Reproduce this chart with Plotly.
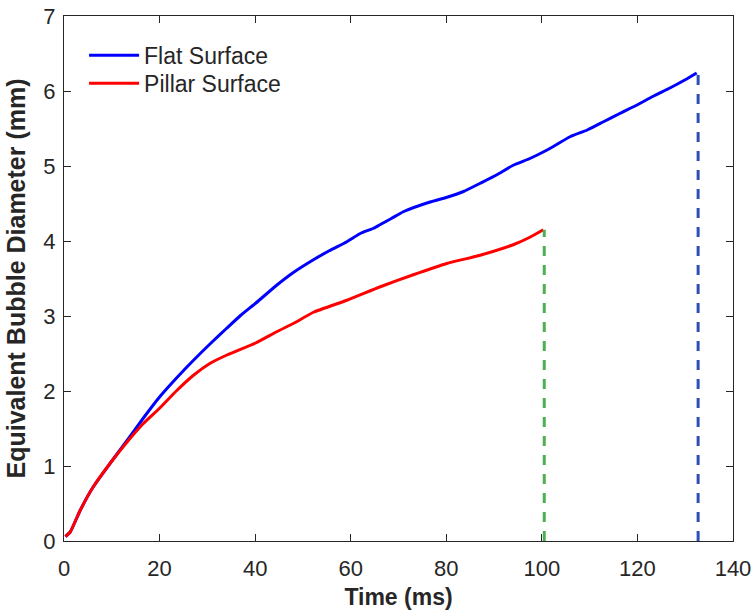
import plotly.graph_objects as go

# Flat surface (blue)
flat_t = [0.3, 1.3, 3.4, 6.1, 9.7, 13.2, 16.5, 20.0, 23.5, 27.1, 30.6, 34.1, 37.0, 40.1, 44.5, 48.0,
          52.2, 55.5, 59.2, 62.0, 64.8, 66.2, 68.5, 71.0, 76.6, 80.0, 83.6, 87.1, 90.5, 94.0,
          97.5, 101.0, 102.4, 105.9, 109.5, 112.9, 116.3, 119.8, 123.3, 126.8, 130.0, 132.4]
flat_d = [0.06, 0.12, 0.41, 0.72, 1.04, 1.34, 1.63, 1.92, 2.17, 2.41, 2.63, 2.84, 3.01, 3.17, 3.41, 3.58,
          3.75, 3.87, 3.99, 4.10, 4.17, 4.22, 4.30, 4.39, 4.52, 4.58, 4.66, 4.77, 4.88, 5.01,
          5.10, 5.21, 5.26, 5.39, 5.48, 5.59, 5.70, 5.81, 5.93, 6.04, 6.15, 6.24]

# Pillar surface (red)
pillar_t = [0.3, 1.3, 3.4, 6.1, 9.7, 13.2, 16.5, 20.0, 23.5, 27.1, 30.6, 34.1, 40.1, 44.5, 48.0,
            52.2, 59.2, 66.2, 73.1, 80.1, 87.1, 94.0, 97.5, 100.3]
pillar_d = [0.06, 0.12, 0.41, 0.72, 1.04, 1.32, 1.56, 1.77, 2.00, 2.21, 2.37, 2.48, 2.64, 2.79, 2.90,
            3.05, 3.21, 3.39, 3.55, 3.70, 3.81, 3.95, 4.05, 4.15]

# End markers (dashed verticals)
flat_end_t = 132.7
pillar_end_t = 100.5

x_ticks = [0, 20, 40, 60, 80, 100, 120, 140]
y_ticks = [0, 1, 2, 3, 4, 5, 6, 7]

FONT = "Liberation Sans, Arial, sans-serif"
TXT = "#262626"

fig = go.Figure()
fig.add_trace(go.Scatter(x=flat_t, y=flat_d, mode="lines", name="Flat Surface", legend="legend",
                         line=dict(color="#0000ff", width=3, shape="spline", smoothing=0.5)))
fig.add_trace(go.Scatter(x=pillar_t, y=pillar_d, mode="lines", name="Pillar Surface", legend="legend2",
                         line=dict(color="#ff0000", width=3, shape="spline", smoothing=0.5)))
fig.add_trace(go.Scatter(x=[pillar_end_t, pillar_end_t], y=[0, pillar_d[-1]], mode="lines",
                         showlegend=False, line=dict(color="#4caf50", width=3, dash="10px,9px")))
fig.add_trace(go.Scatter(x=[flat_end_t, flat_end_t], y=[0, flat_d[-1]], mode="lines",
                         showlegend=False, line=dict(color="#2f4fb5", width=3, dash="10px,9px")))

axis_common = dict(showline=True, linecolor=TXT, linewidth=1, mirror="ticks",
                   ticks="inside", ticklen=7, tickcolor=TXT, showgrid=False, automargin=False,
                   zeroline=False, tickfont=dict(family=FONT, size=22, color=TXT))

fig.update_xaxes(range=[0, 140], tickvals=x_ticks, ticktext=[str(v) for v in x_ticks],
                 ticklabelstandoff=8,
                 title=dict(text="<b>Time (ms)</b>", font=dict(family=FONT, size=23, color=TXT),
                            standoff=8), **axis_common)
fig.update_yaxes(range=[0, 7], tickvals=y_ticks, ticktext=[str(v) for v in y_ticks],
                 ticklabelstandoff=3,
                 title=dict(text="<b>Equivalent Bubble Diameter (mm)</b>",
                            font=dict(family=FONT, size=25, color=TXT), standoff=10),
                 **axis_common)

leg_common = dict(xanchor="left", yanchor="middle", bgcolor="rgba(0,0,0,0)",
                  font=dict(family=FONT, size=23, color=TXT), itemwidth=50)

fig.update_layout(
    width=754, height=611,
    margin=dict(l=64, r=21, t=16, b=70),
    paper_bgcolor="white", plot_bgcolor="white",
    showlegend=True,
    legend=dict(x=0.03, y=0.925, **leg_common),
    legend2=dict(x=0.03, y=0.872, **leg_common),
)

fig.write_html("out.html")
